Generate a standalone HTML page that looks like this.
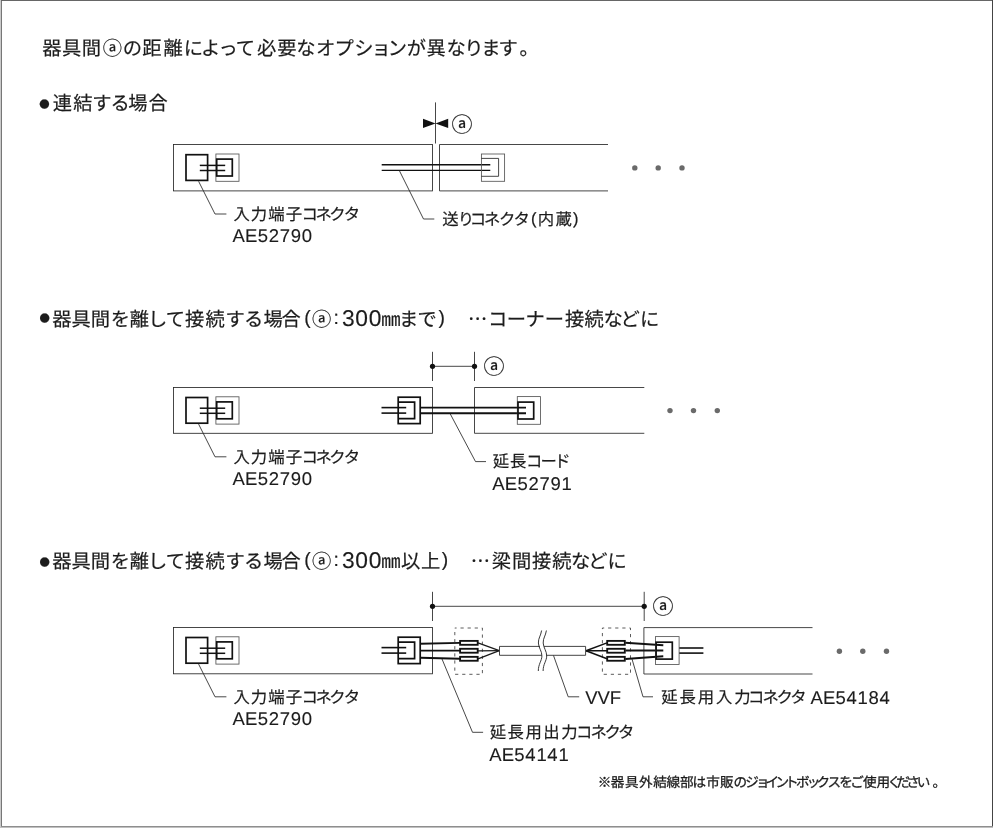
<!DOCTYPE html>
<html lang="ja">
<head>
<meta charset="utf-8">
<title>器具間の距離と必要なオプション</title>
<style>
html,body{margin:0;padding:0;background:#fff;}
body{width:994px;height:828px;overflow:hidden;position:relative;}
svg{position:absolute;left:0;top:0;display:block;will-change:transform;}
text{text-rendering:geometricPrecision;font-family:"Liberation Sans","Noto Sans CJK JP",sans-serif;fill:#1c1c1c;stroke:#1c1c1c;stroke-width:0.2px;stroke-linejoin:round;white-space:pre;}
.l{stroke-width:0.12px;}
.c{stroke-width:0.45px;}
.f{stroke-width:0.3px;}
</style>
</head>
<body>
<svg width="994" height="828" viewBox="0 0 994 828">
<rect x="0" y="0" width="994" height="828" fill="#fff"/>
<rect x="0" y="0" width="1" height="828" fill="#cacaca"/>
<rect x="1" y="0" width="1" height="827" fill="#777"/>
<rect x="1" y="0" width="992" height="1" fill="#666"/>
<rect x="992" y="0" width="1" height="827" fill="#444"/>
<rect x="1" y="826" width="992" height="1" fill="#8e8e8e"/>
<rect x="0" y="827" width="993" height="1" fill="#c0c0c0"/>
<g id="shapes">
<rect x="173.50" y="144.50" width="259.00" height="46.40" stroke="#262626" stroke-width="0.85" fill="none"/>
<polyline points="608.00,144.50 439.50,144.50 439.50,190.90 608.00,190.90" stroke="#262626" stroke-width="0.85" fill="none"/>
<rect x="186.00" y="154.70" width="21.60" height="25.70" stroke="#111" stroke-width="1.7" fill="none"/>
<rect x="215.90" y="154.00" width="23.10" height="27.30" stroke="#555" stroke-width="0.85" fill="none"/>
<rect x="216.70" y="159.10" width="15.60" height="16.90" stroke="#111" stroke-width="1.7" fill="none"/>
<line x1="199.80" y1="165.40" x2="225.20" y2="165.40" stroke="#111" stroke-width="1.5"/>
<line x1="199.80" y1="170.50" x2="225.20" y2="170.50" stroke="#111" stroke-width="1.5"/>
<polyline points="198.60,181.30 215.00,214.00 226.40,214.00" stroke="#262626" stroke-width="0.85" fill="none"/>
<line x1="381.70" y1="164.70" x2="490.30" y2="164.70" stroke="#111" stroke-width="1.4"/>
<line x1="381.70" y1="170.40" x2="490.30" y2="170.40" stroke="#111" stroke-width="1.4"/>
<rect x="481.40" y="154.00" width="23.20" height="27.30" stroke="#555" stroke-width="0.85" fill="none"/>
<polyline points="481.40,158.40 498.60,158.40 498.60,176.30 481.40,176.30" stroke="#262626" stroke-width="0.85" fill="none"/>
<line x1="435.50" y1="102.40" x2="435.50" y2="143.50" stroke="#262626" stroke-width="0.85" fill="none"/>
<polygon points="423,118.8 423,128 435.5,123.4" fill="#111"/>
<polygon points="448.2,118.8 448.2,128 435.5,123.4" fill="#111"/>
<text x="462.00" y="131.58" font-size="21.0" text-anchor="middle">ⓐ</text>
<circle cx="634.80" cy="167.90" r="2.70" fill="#6a6a6a"/><circle cx="658.20" cy="167.90" r="2.70" fill="#6a6a6a"/><circle cx="682.00" cy="167.90" r="2.70" fill="#6a6a6a"/>
<polyline points="399.30,170.50 423.50,219.00 434.30,219.00" stroke="#262626" stroke-width="0.85" fill="none"/>
<rect x="173.50" y="387.50" width="259.00" height="45.80" stroke="#262626" stroke-width="0.85" fill="none"/>
<polyline points="644.30,387.50 474.50,387.50 474.50,433.30 644.30,433.30" stroke="#262626" stroke-width="0.85" fill="none"/>
<rect x="186.00" y="397.50" width="21.60" height="25.70" stroke="#111" stroke-width="1.7" fill="none"/>
<rect x="215.90" y="396.80" width="23.10" height="27.30" stroke="#555" stroke-width="0.85" fill="none"/>
<rect x="216.70" y="401.90" width="15.60" height="16.90" stroke="#111" stroke-width="1.7" fill="none"/>
<line x1="199.80" y1="408.20" x2="225.20" y2="408.20" stroke="#111" stroke-width="1.5"/>
<line x1="199.80" y1="413.30" x2="225.20" y2="413.30" stroke="#111" stroke-width="1.5"/>
<polyline points="198.60,424.10 215.00,456.80 226.40,456.80" stroke="#262626" stroke-width="0.85" fill="none"/>
<rect x="398.20" y="397.20" width="22.00" height="26.40" stroke="#111" stroke-width="1.7" fill="none"/>
<polyline points="398.20,402.10 414.60,402.10 414.60,418.70 398.20,418.70" stroke="#111" stroke-width="1.7" fill="none"/>
<line x1="381.50" y1="407.60" x2="406.20" y2="407.60" stroke="#111" stroke-width="1.6"/>
<line x1="381.50" y1="413.10" x2="406.20" y2="413.10" stroke="#111" stroke-width="1.6"/>
<line x1="420.30" y1="407.60" x2="526.00" y2="407.60" stroke="#111" stroke-width="1.9"/>
<line x1="420.30" y1="413.30" x2="526.00" y2="413.30" stroke="#111" stroke-width="1.9"/>
<rect x="517.30" y="396.60" width="23.20" height="27.70" stroke="#555" stroke-width="0.85" fill="none"/>
<rect x="518.00" y="402.10" width="15.70" height="16.90" stroke="#111" stroke-width="1.7" fill="none"/>
<line x1="432.50" y1="351.80" x2="432.50" y2="381.00" stroke="#262626" stroke-width="0.85" fill="none"/>
<line x1="474.50" y1="351.80" x2="474.50" y2="381.00" stroke="#262626" stroke-width="0.85" fill="none"/>
<line x1="432.50" y1="366.30" x2="474.50" y2="366.30" stroke="#262626" stroke-width="0.85" fill="none"/>
<circle cx="432.50" cy="366.30" r="2.60" fill="#111"/>
<circle cx="474.50" cy="366.30" r="2.60" fill="#111"/>
<text x="494.10" y="373.78" font-size="21.0" text-anchor="middle">ⓐ</text>
<circle cx="670.00" cy="410.60" r="2.70" fill="#6a6a6a"/><circle cx="693.50" cy="410.60" r="2.70" fill="#6a6a6a"/><circle cx="717.30" cy="410.60" r="2.70" fill="#6a6a6a"/>
<polyline points="450.30,414.00 475.50,461.60 486.00,461.60" stroke="#262626" stroke-width="0.85" fill="none"/>
<rect x="173.50" y="627.50" width="259.00" height="46.30" stroke="#262626" stroke-width="0.85" fill="none"/>
<polyline points="812.50,627.60 643.90,627.60 643.90,674.00 812.50,674.00" stroke="#262626" stroke-width="0.85" fill="none"/>
<rect x="186.00" y="637.50" width="21.60" height="25.70" stroke="#111" stroke-width="1.7" fill="none"/>
<rect x="215.90" y="636.80" width="23.10" height="27.30" stroke="#555" stroke-width="0.85" fill="none"/>
<rect x="216.70" y="641.90" width="15.60" height="16.90" stroke="#111" stroke-width="1.7" fill="none"/>
<line x1="199.80" y1="648.20" x2="225.20" y2="648.20" stroke="#111" stroke-width="1.5"/>
<line x1="199.80" y1="653.30" x2="225.20" y2="653.30" stroke="#111" stroke-width="1.5"/>
<polyline points="198.60,664.10 215.00,696.80 226.40,696.80" stroke="#262626" stroke-width="0.85" fill="none"/>
<rect x="398.20" y="637.20" width="22.00" height="26.40" stroke="#111" stroke-width="1.7" fill="none"/>
<polyline points="398.20,642.10 414.60,642.10 414.60,658.70 398.20,658.70" stroke="#111" stroke-width="1.7" fill="none"/>
<line x1="381.50" y1="647.60" x2="406.20" y2="647.60" stroke="#111" stroke-width="1.6"/>
<line x1="381.50" y1="653.10" x2="406.20" y2="653.10" stroke="#111" stroke-width="1.6"/>
<line x1="420.30" y1="643.70" x2="460.00" y2="642.90" stroke="#111" stroke-width="1.9"/>
<line x1="420.30" y1="650.60" x2="460.00" y2="650.60" stroke="#111" stroke-width="1.9"/>
<line x1="420.30" y1="657.80" x2="460.00" y2="658.80" stroke="#111" stroke-width="1.9"/>
<rect x="454.80" y="628.00" width="27.60" height="46.30" stroke="#4a4a4a" stroke-width="0.9" fill="none" stroke-dasharray="3.2 3.9" stroke-dashoffset="1.4"/>
<rect x="602.40" y="628.00" width="28.10" height="46.30" stroke="#4a4a4a" stroke-width="0.9" fill="none" stroke-dasharray="3.2 3.9" stroke-dashoffset="1.4"/>
<line x1="478.00" y1="642.85" x2="499.30" y2="650.70" stroke="#1a1a1a" stroke-width="1.25"/>
<line x1="607.00" y1="642.85" x2="586.00" y2="650.70" stroke="#111" stroke-width="1.5"/>
<line x1="478.00" y1="650.75" x2="499.30" y2="650.70" stroke="#1a1a1a" stroke-width="1.25"/>
<line x1="607.00" y1="650.75" x2="586.00" y2="650.70" stroke="#111" stroke-width="1.5"/>
<line x1="478.00" y1="658.80" x2="499.30" y2="650.70" stroke="#1a1a1a" stroke-width="1.25"/>
<line x1="607.00" y1="658.80" x2="586.00" y2="650.70" stroke="#111" stroke-width="1.5"/>
<rect x="460.10" y="640.90" width="17.60" height="3.90" stroke="#111" stroke-width="1.85" fill="#fff"/>
<rect x="460.10" y="648.80" width="17.60" height="3.90" stroke="#111" stroke-width="1.85" fill="#fff"/>
<rect x="460.10" y="656.85" width="17.60" height="3.90" stroke="#111" stroke-width="1.85" fill="#fff"/>
<rect x="607.20" y="640.90" width="17.60" height="3.90" stroke="#111" stroke-width="1.85" fill="#fff"/>
<rect x="607.20" y="648.80" width="17.60" height="3.90" stroke="#111" stroke-width="1.85" fill="#fff"/>
<rect x="607.20" y="656.85" width="17.60" height="3.90" stroke="#111" stroke-width="1.85" fill="#fff"/>
<polyline points="540.00,646.40 499.50,646.40 499.50,655.30 541.80,655.30" stroke="#3a3a3a" stroke-width="0.95" fill="none"/>
<polyline points="544.00,646.40 585.60,646.40 585.60,655.30 546.40,655.30" stroke="#3a3a3a" stroke-width="0.95" fill="none"/>
<path d="M541.6,630.5 C540.8,636 538.2,638 538.4,643 C538.6,648 542.0,651 541.9,656 C541.8,661 538.3,664 538.3,671" stroke="#222" stroke-width="0.9" fill="none"/>
<path d="M546.4,630.5 C545.6,636 543.0,638 543.2,643 C543.4,648 546.8,651 546.7,656 C546.6,661 543.1,664 543.1,671" stroke="#222" stroke-width="0.9" fill="none"/>
<line x1="625.40" y1="642.80" x2="663.30" y2="645.20" stroke="#111" stroke-width="1.9"/>
<line x1="625.40" y1="650.50" x2="663.30" y2="650.50" stroke="#111" stroke-width="1.9"/>
<line x1="625.40" y1="659.00" x2="663.30" y2="656.30" stroke="#111" stroke-width="1.9"/>
<rect x="655.50" y="636.60" width="23.60" height="27.90" stroke="#555" stroke-width="0.85" fill="none"/>
<rect x="656.10" y="642.20" width="16.20" height="16.90" stroke="#111" stroke-width="1.7" fill="none"/>
<line x1="679.30" y1="648.00" x2="703.40" y2="648.00" stroke="#111" stroke-width="1.6"/>
<line x1="679.30" y1="653.10" x2="703.40" y2="653.10" stroke="#111" stroke-width="1.6"/>
<line x1="432.50" y1="591.80" x2="432.50" y2="621.00" stroke="#262626" stroke-width="0.85" fill="none"/>
<line x1="644.20" y1="591.80" x2="644.20" y2="621.00" stroke="#262626" stroke-width="0.85" fill="none"/>
<line x1="432.50" y1="606.30" x2="644.20" y2="606.30" stroke="#262626" stroke-width="0.85" fill="none"/>
<circle cx="432.50" cy="606.30" r="2.60" fill="#111"/>
<circle cx="644.20" cy="606.30" r="2.60" fill="#111"/>
<text x="663.10" y="614.08" font-size="21.0" text-anchor="middle">ⓐ</text>
<circle cx="839.40" cy="651.30" r="2.70" fill="#6a6a6a"/><circle cx="862.80" cy="651.30" r="2.70" fill="#6a6a6a"/><circle cx="886.50" cy="651.30" r="2.70" fill="#6a6a6a"/>
<polyline points="442.00,659.00 472.50,732.30 483.10,732.30" stroke="#262626" stroke-width="0.85" fill="none"/>
<polyline points="553.50,655.50 568.20,696.80 579.20,696.80" stroke="#262626" stroke-width="0.85" fill="none"/>
<polyline points="632.00,659.00 643.00,696.80 653.00,696.80" stroke="#262626" stroke-width="0.85" fill="none"/>
</g>
<g id="labels">
<text font-size="19.3" x="42.28 62.05 81.82 102.75 122.84 142.14 163.43 183.83 200.93 218.59 235.72 256.90 277.37 296.30 315.90 334.45 354.32 371.59 387.78 406.68 426.62 446.45 464.31 481.14 498.56 519.50" y="55">器具間ⓐの距離によって必要なオプションが異なります。</text>
<text font-size="19.3"><tspan x="39.34" y="108" font-size="10.33" font-family='"Noto Sans CJK JP","Liberation Sans",sans-serif'>●</tspan><tspan x="52.81 73.25 92.31 110.61 128.24 148.40" y="110">連結する場合</tspan></text>
<text font-size="19.3"><tspan x="39.44" y="322" font-size="10.33" font-family='"Noto Sans CJK JP","Liberation Sans",sans-serif'>●</tspan><tspan x="52.18 71.50 90.82 110.72 129.80 147.90 165.87 185.08 205.44 225.46 244.01 263.54 281.40 304.24 312.05 333.52" y="326 326 326 326 326 326 326 326 326 326 326 326 326 324 326 324">器具間を離して接続する場合(ⓐ:</tspan><tspan x="342.03 355.26 368.86" y="326" font-size="22.8" class="l">300</tspan><tspan x="381.13 399.04 417.58 438.48 446.00" y="326 326 326 324 326">㎜まで)　</tspan><tspan x="468.05" y="326" font-family='"Noto Sans CJK JP","Liberation Sans",sans-serif'>…</tspan><tspan x="487.97 506.86 525.52 544.86 565.08 584.44 603.45 620.39 639.93" y="326">コーナー接続などに</tspan></text>
<text font-size="19.3"><tspan x="39.44" y="566" font-size="10.33" font-family='"Noto Sans CJK JP","Liberation Sans",sans-serif'>●</tspan><tspan x="52.18 71.50 90.82 110.72 129.80 147.90 165.87 185.08 205.44 225.46 244.01 263.54 281.40 304.24 312.05 333.52" y="568 568 568 568 568 568 568 568 568 568 568 568 568 566 568 566">器具間を離して接続する場合(ⓐ:</tspan><tspan x="342.03 355.26 368.86" y="568" font-size="22.8" class="l">300</tspan><tspan x="381.13 401.11 420.96 441.73 449.00" y="568 568 568 566 568">㎜以上)　</tspan><tspan x="470.85" y="568" font-family='"Noto Sans CJK JP","Liberation Sans",sans-serif'>…</tspan><tspan x="491.84 511.94 532.04 552.14 570.95 588.19 607.58" y="568">梁間接続などに</tspan></text>
<text font-size="16.4" x="233.41 250.85 268.30 285.74 301.38 315.51 329.34 343.74" y="220">入力端子コネクタ</text>
<text font-size="18.5" font-family='"Liberation Sans",sans-serif' class="l" x="232.48 245.02 257.66 268.66 279.67 290.66 301.66" y="242">AE52790</text>
<text font-size="16.4" x="233.41 250.85 268.30 285.74 301.38 315.51 329.34 343.74" y="463">入力端子コネクタ</text>
<text font-size="18.5" font-family='"Liberation Sans",sans-serif' class="l" x="232.48 245.02 257.66 268.66 279.67 290.66 301.66" y="485">AE52790</text>
<text font-size="16.4" x="233.41 250.85 268.30 285.74 301.38 315.51 329.34 343.74" y="703">入力端子コネクタ</text>
<text font-size="18.5" font-family='"Liberation Sans",sans-serif' class="l" x="232.48 245.02 257.66 268.66 279.67 290.66 301.66" y="725">AE52790</text>
<text font-size="16.4" x="442.34 457.87 469.78 484.11 498.89 513.44 531.01 537.83 555.40 573.03" y="225 225 225 225 225 225 224 225 225 224">送りコネクタ(内蔵)</text>
<text font-size="16.4" x="492.64 510.09 526.03 540.61 554.17" y="467">延長コード</text>
<text font-size="18.5" font-family='"Liberation Sans",sans-serif' class="l" x="492.28 504.82 517.46 528.46 539.47 550.46 561.48" y="490">AE52791</text>
<text font-size="18.5" font-family='"Liberation Sans",sans-serif' class="l" x="585.18 597.38 609.66" y="704">VVF</text>
<text font-size="16.4"><tspan x="661.24 679.51 697.78 716.05 734.33 748.08 762.61 776.54 790.14" y="703">延長用入力コネクタ</tspan><tspan x="805.50 810.38 822.92 835.56 846.56 857.58 868.56 879.56" y="703 704 704 704 704 704 704 704" font-size="18.5" class="l"> AE54184</tspan></text>
<text font-size="16.4" x="489.74 507.59 525.43 543.28 561.13 575.98 590.56 604.39 617.99" y="738">延長用出力コネクタ</text>
<text font-size="18.5" font-family='"Liberation Sans",sans-serif' class="l" x="489.18 501.72 514.36 525.36 536.38 547.36 558.38" y="761">AE54141</text>
<text font-size="13.6" class="f" x="597.80 610.87 624.96 638.93 653.15 666.59 680.07 692.56 706.29 720.10 733.53 745.21 755.90 765.40 775.46 784.90 796.01 806.75 816.60 827.51 839.36 850.17 863.00 876.50 887.52 896.26 906.26 916.84 932.40" y="787">※器具外結線部は市販のジョイントボックスをご使用ください。</text>
</g>
</svg>
</body>
</html>
